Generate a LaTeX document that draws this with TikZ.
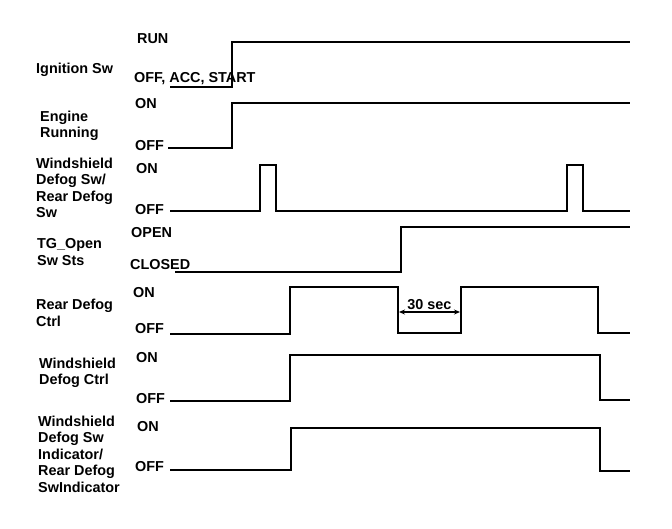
\documentclass[tikz,border=0pt]{standalone}
\usepackage{fontspec}
\setmainfont{Liberation Sans}
\usepackage{tikz}
\usetikzlibrary{arrows.meta}
\newcommand{\lblfont}{\fontsize{14.4}{16.5}\selectfont\bfseries}
\tikzset{
  sig/.style={line width=2pt,line join=miter},
  signame/.style={anchor=west,align=left,inner sep=0pt,font=\lblfont},
  state/.style={anchor=west,inner sep=0pt,font=\lblfont},
  dim/.style={{Stealth[length=6pt,width=5pt]}-{Stealth[length=6pt,width=5pt]},line width=1.2pt},
}

\begin{document}
\begin{tikzpicture}[x=1pt,y=-1pt]
\useasboundingbox (0,0) rectangle (672,528);
% signal names
\node[signame] (n1) at (36,70) {Ignition Sw};
\node[signame] (n2) at (40,126) {Engine\\Running};
\node[signame] (n3) at (36,188) {Windshield\\Defog Sw/\\Rear Defog\\Sw};
\node[signame] (n4) at (37,252) {TG\_Open\\Sw Sts};
\node[signame] (n5) at (36,313) {Rear Defog\\Ctrl};
\node[signame] (n6) at (39,373) {Windshield\\Defog Ctrl};
\node[signame] (n7) at (38,454) {Windshield\\Defog Sw\\Indicator/\\Rear Defog\\SwIndicator};
% states
\node[state] (s1h) at (137,39) {RUN};
\node[state] (s1l) at (134,79) {OFF, ACC, START};
\node[state] (s2h) at (135,104) {ON};
\node[state] (s2l) at (135,146) {OFF};
\node[state] (s3h) at (136,169) {ON};
\node[state] (s3l) at (135,210) {OFF};
\node[state] (s4h) at (131,233) {OPEN};
\node[state] (s4l) at (130,265) {CLOSED};
\node[state] (s5h) at (133,293) {ON};
\node[state] (s5l) at (135,329) {OFF};
\node[state] (s6h) at (136,358) {ON};
\node[state] (s6l) at (136,399) {OFF};
\node[state] (s7h) at (137,427) {ON};
\node[state] (s7l) at (135,467) {OFF};
% waveforms
\draw[sig] (170,87) -- (232,87) -- (232,42) -- (630,42);
\draw[sig] (168,148) -- (232,148) -- (232,103) -- (630,103);
\draw[sig] (170,211) -- (260,211) -- (260,165) -- (276,165) -- (276,211)
  -- (567,211) -- (567,165) -- (583,165) -- (583,211) -- (630,211);
\draw[sig] (175,272) -- (401,272) -- (401,227) -- (630,227);
\draw[sig] (170,334) -- (290,334) -- (290,287) -- (398,287) -- (398,333)
  -- (461,333) -- (461,287) -- (598,287) -- (598,333) -- (630,333);
\draw[sig] (170,401) -- (290,401) -- (290,355) -- (600,355) -- (600,400) -- (630,400);
\draw[sig] (170,470) -- (291,470) -- (291,428) -- (600,428) -- (600,471) -- (630,471);
% delay
\coordinate (t1) at (399,312);
\coordinate (t2) at (460,312);
\draw[dim] (t1) -- node[above=1pt,font=\lblfont,inner sep=1pt] (dly) {30 sec} (t2);
\end{tikzpicture}
\end{document}
